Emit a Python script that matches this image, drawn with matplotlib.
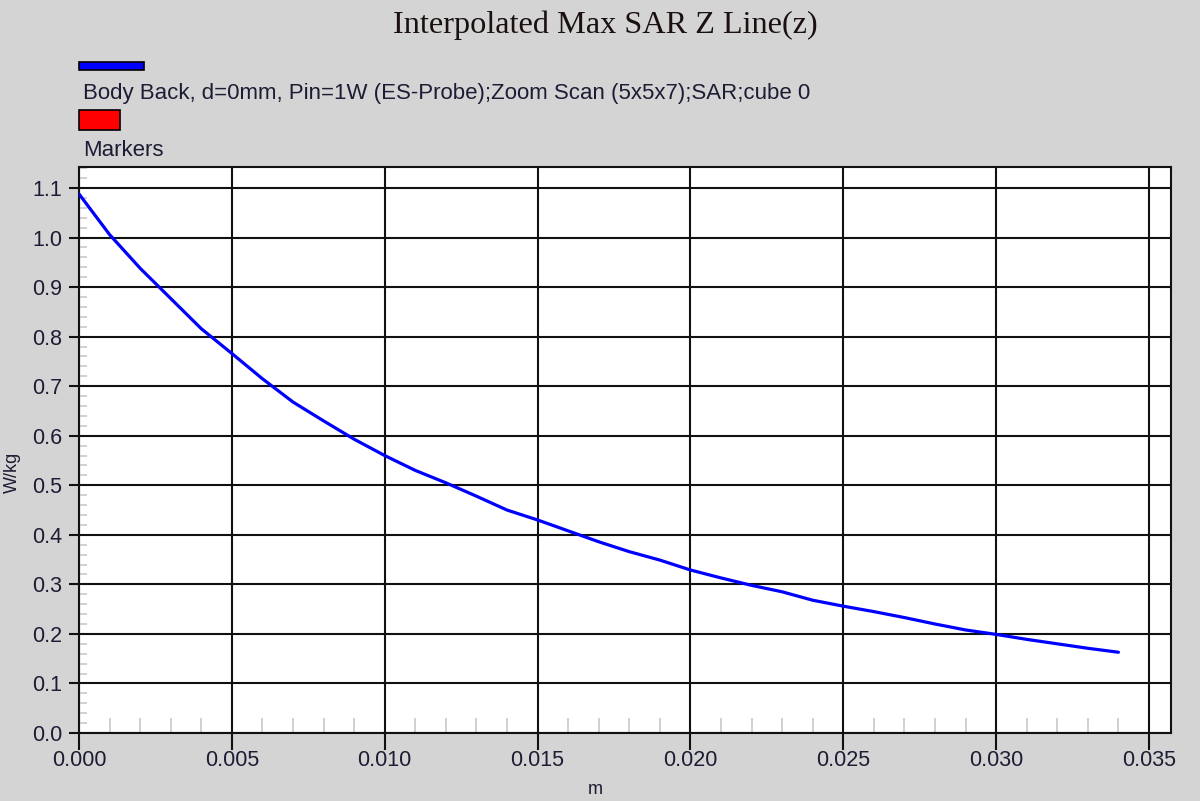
import matplotlib
matplotlib.use("Agg")
import matplotlib.pyplot as plt
from matplotlib.patches import Rectangle
from matplotlib.ticker import MultipleLocator, FormatStrFormatter

# ---- data ----
z_m = [0.000, 0.001, 0.002, 0.003, 0.004, 0.005, 0.006, 0.007, 0.008, 0.009,
       0.010, 0.011, 0.012, 0.013, 0.014, 0.015, 0.016, 0.017, 0.018, 0.019,
       0.020, 0.021, 0.022, 0.023, 0.024, 0.025, 0.026, 0.027, 0.028, 0.029,
       0.030, 0.031, 0.032, 0.033, 0.034]
sar_wkg = [1.088, 1.006, 0.938, 0.877, 0.816, 0.766, 0.715, 0.668, 0.630, 0.593,
           0.560, 0.530, 0.505, 0.478, 0.450, 0.430, 0.408, 0.386, 0.366, 0.349,
           0.329, 0.313, 0.298, 0.285, 0.268, 0.256, 0.245, 0.233, 0.220, 0.208,
           0.199, 0.189, 0.180, 0.171, 0.163]
title = "Interpolated Max SAR Z Line(z)"
series_label = "Body Back, d=0mm, Pin=1W (ES-Probe);Zoom Scan (5x5x7);SAR;cube 0"
marker_label = "Markers"
x_label = "m"
y_label = "W/kg"

BG = "#d4d4d4"
TXT = "#1c1c34"

fig = plt.figure(figsize=(12, 8.01), dpi=100, facecolor=BG)
ax = fig.add_axes([79/1200, 1 - 733/801, 1092/1200, 566/801])
ax.set_facecolor("white")

ax.plot(z_m, sar_wkg, color="#0000ff", lw=2.3, zorder=3, solid_capstyle="round")

ax.set_xlim(0, 0.03572)
ax.set_ylim(0, 1.1424)

ax.xaxis.set_major_locator(MultipleLocator(0.005))
ax.xaxis.set_minor_locator(MultipleLocator(0.001))
ax.yaxis.set_major_locator(MultipleLocator(0.1))
ax.yaxis.set_minor_locator(MultipleLocator(0.02))
ax.xaxis.set_major_formatter(FormatStrFormatter("%.3f"))
ax.yaxis.set_major_formatter(FormatStrFormatter("%.1f"))

ax.grid(True, which="major", color="#111111", lw=1.5, zorder=1)
for s in ax.spines.values():
    s.set_color("#111111")
    s.set_linewidth(1.5)

ax.tick_params(axis="x", which="major", direction="out", length=12, width=1.5,
               color="#111111", labelsize=15.5, labelcolor=TXT, pad=0)
ax.tick_params(axis="y", which="major", direction="out", length=7, width=1.5,
               color="#111111", labelsize=15.5, labelcolor=TXT, pad=5)
ax.tick_params(axis="x", which="minor", direction="in", length=11, width=1.2,
               color="#c8c8c8")
ax.tick_params(axis="y", which="minor", direction="in", length=6, width=1.2,
               color="#c8c8c8")
for lab in ax.get_xticklabels() + ax.get_yticklabels():
    lab.set_fontfamily("Liberation Sans")

ax.set_xlabel(x_label, fontsize=13, color=TXT, family="Liberation Sans")
ax.xaxis.set_label_coords((595 - 79)/1092, -(790 - 733)/566)
ax.xaxis.label.set_va("center")
ax.set_ylabel(y_label, fontsize=13, color=TXT, family="Liberation Sans")
ax.yaxis.set_label_coords(-(79 - 12)/1092, (733 - 472)/566)
ax.yaxis.label.set_va("center")

fig.text(605/1200, 1 - 25/801, title, ha="center", va="center",
         fontsize=23.2, family="Liberation Serif", color="#1a1010")

# legend-like header
fig.patches.append(Rectangle((79/1200, 1 - 70/801), 65/1200, 8/801,
                             transform=fig.transFigure, facecolor="#0000ff",
                             edgecolor="black", lw=1.2))
fig.text(83/1200, 1 - 93/801, series_label, ha="left", va="center",
         fontsize=16, family="Liberation Sans", color=TXT)
fig.patches.append(Rectangle((79/1200, 1 - 130/801), 41/1200, 20/801,
                             transform=fig.transFigure, facecolor="#ff0000",
                             edgecolor="black", lw=1.2))
fig.text(83/1200, 1 - 150/801, marker_label, ha="left", va="center",
         fontsize=16, family="Liberation Sans", color=TXT)

fig.savefig("out.png", dpi=100, facecolor=BG)
